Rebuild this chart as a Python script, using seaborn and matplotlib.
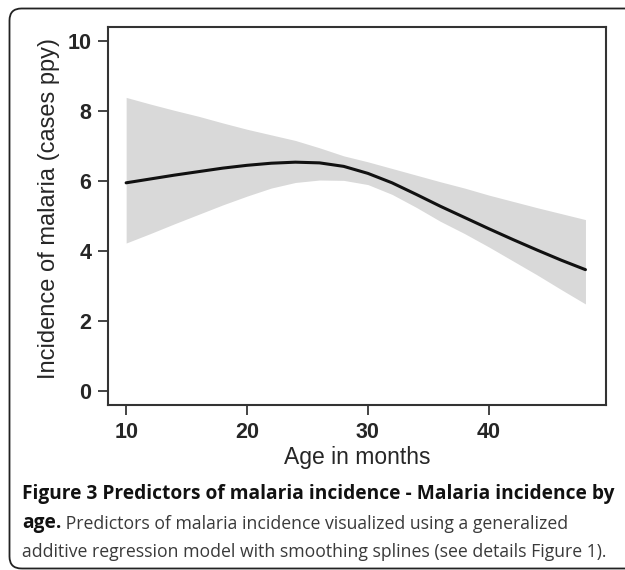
import matplotlib
matplotlib.use("Agg")
import matplotlib.pyplot as plt
import seaborn as sns
import pandas as pd
from matplotlib.patches import FancyBboxPatch

# values
age = [10, 12, 14, 16, 18, 20, 22, 24, 26, 28, 30, 32, 34, 36, 38, 40, 42, 44, 46, 48]
incidence = [5.95, 6.06, 6.17, 6.27, 6.37, 6.45, 6.51, 6.54, 6.52, 6.42,
             6.22, 5.95, 5.62, 5.28, 4.96, 4.64, 4.33, 4.03, 3.74, 3.47]
upper = [8.39, 8.20, 8.02, 7.85, 7.66, 7.48, 7.32, 7.16, 6.95, 6.72,
         6.55, 6.36, 6.17, 5.98, 5.80, 5.60, 5.42, 5.24, 5.07, 4.90]
lower = [4.23, 4.50, 4.78, 5.05, 5.32, 5.57, 5.80, 5.96, 6.03, 6.02,
         5.90, 5.62, 5.25, 4.85, 4.50, 4.12, 3.72, 3.32, 2.90, 2.49]
x_ticks = [10, 20, 30, 40]
y_ticks = [0, 2, 4, 6, 8, 10]

df = pd.DataFrame({"age": age, "incidence": incidence, "upper": upper, "lower": lower})

sns.set_theme(style="white")
plt.rcParams["font.family"] = ["Liberation Sans", "DejaVu Sans"]

fig = plt.figure(figsize=(6.25, 5.7), dpi=100)
ax = fig.add_axes([0.1728, 0.2886, 0.7968, 0.6646])

# confidence band and fitted spline
ax.fill_between(df["age"], df["lower"], df["upper"], color="#d9d9d9", linewidth=0)
sns.lineplot(data=df, x="age", y="incidence", ax=ax, color="#111111", linewidth=2.2)

ax.set_xlim(8.5, 49.7)
ax.set_ylim(-0.41, 10.41)
ax.set_xticks(x_ticks)
ax.set_yticks(y_ticks)
ax.tick_params(axis="both", which="major", direction="out", length=7, width=1.4,
               color="#444444", labelsize=15.5, pad=5, left=True, bottom=True)
for lab in ax.get_xticklabels() + ax.get_yticklabels():
    lab.set_fontweight("bold")
for s in ax.spines.values():
    s.set_color("#333333")
    s.set_linewidth(1.5)

ax.set_xlabel("Age in months", fontsize=16.5, labelpad=2)
ax.set_ylabel("Incidence of malaria (cases ppy)", fontsize=17)
ax.yaxis.set_label_coords(-0.097, 0.521)

# rounded frame around the figure panel
frame = FancyBboxPatch((9.5, 1.5), 660, 560, boxstyle="round,pad=0,rounding_size=12",
                       transform=None, fill=False, edgecolor="#222222", linewidth=1.3,
                       clip_on=False)
fig.patches.append(frame)

# caption
bold_cap = dict(family=["Open Sans", "DejaVu Sans"], fontsize=13.8, fontweight="bold",
                color="#111111")
reg_cap = dict(family=["Open Sans", "DejaVu Sans"], fontsize=12.7, color="#3a3a3a")
fig.text(22 / 625, 1 - 494 / 570,
         "Figure 3 Predictors of malaria incidence - Malaria incidence by",
         va="center", **bold_cap)
t2 = fig.text(22 / 625, 1 - 523 / 570, "age.", va="center", **bold_cap)
ax.annotate(" Predictors of malaria incidence visualized using a generalized",
            xy=(1, 0), xycoords=t2, va="bottom", ha="left",
            annotation_clip=False, **reg_cap)
fig.text(22 / 625, 1 - 552 / 570,
         "additive regression model with smoothing splines (see details Figure 1).",
         va="center", **reg_cap)

fig.savefig("out.png", dpi=100)
